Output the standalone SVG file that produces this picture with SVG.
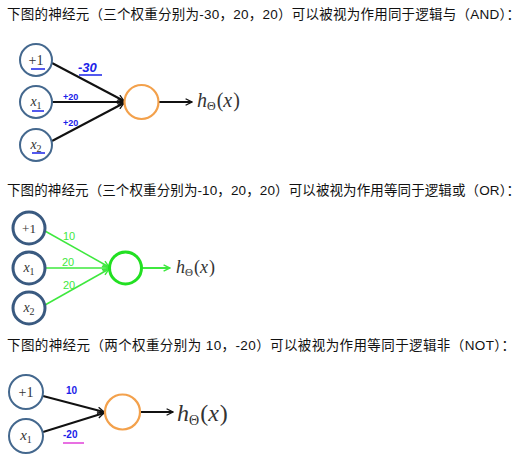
<svg xmlns="http://www.w3.org/2000/svg" width="521" height="467" viewBox="0 0 521 467">
<style>
.hd{font-family:"Liberation Sans","Noto Sans CJK SC",sans-serif;font-size:13.5px;fill:#111}
.in{fill:#fff;stroke:#44688e;stroke-width:2}
.in2{fill:#fff;stroke:#3a5a80;stroke-width:3}
.or{fill:#fff;stroke:#f3a14c;stroke-width:2.2}
.gr{fill:#fff;stroke:#22e022;stroke-width:3}
.m{font-family:"Liberation Serif","DejaVu Serif",serif;fill:#333}
.mi{font-style:italic}
.bk{stroke:#111;stroke-width:2;fill:none}
.gl{stroke:#3ee83e;stroke-width:1.5;fill:none}
.bl{font-family:"Liberation Sans",sans-serif;font-weight:bold;fill:#1a22e8}
.gt{font-family:"Liberation Sans",sans-serif;fill:#3ee83e;font-size:11px}
.ul{stroke:#1a22e8;stroke-width:1.5}
</style>
<defs>
<marker id="ab" viewBox="0 0 10 10" refX="9" refY="5" markerWidth="8" markerHeight="8" orient="auto" markerUnits="userSpaceOnUse">
<path d="M1,1 L9,5 L1,9" fill="none" stroke="#111" stroke-width="1.6"/>
</marker>
<marker id="ag" viewBox="0 0 10 10" refX="9" refY="5" markerWidth="8" markerHeight="8" orient="auto" markerUnits="userSpaceOnUse">
<path d="M1,1 L9,5 L1,9" fill="none" stroke="#3ee83e" stroke-width="1.8"/>
</marker>
</defs>

<text class="hd" x="7" y="19" textLength="513" lengthAdjust="spacing">下图的神经元（三个权重分别为-30，20，20）可以被视为作用同于逻辑与（AND）：</text>
<text class="hd" x="7" y="195" textLength="513" lengthAdjust="spacing">下图的神经元（三个权重分别为-10，20，20）可以被视为作用等同于逻辑或（OR）：</text>
<text class="hd" x="7" y="350" textLength="508" lengthAdjust="spacing">下图的神经元（两个权重分别为 10，-20）可以被视为作用等同于逻辑非（NOT）：</text>

<g id="connectors">
<path class="bk" d="M52,63 L124,101" marker-end="url(#ab)"/>
<path class="bk" d="M52,102 L124,102" marker-end="url(#ab)"/>
<path class="bk" d="M52,141 L124,103" marker-end="url(#ab)"/>
<path class="bk" d="M159,102 L192,102" marker-end="url(#ab)"/>
<path class="gl" d="M45,231 L109,267" marker-end="url(#ag)"/>
<path class="gl" d="M45,268 L109,268" marker-end="url(#ag)"/>
<path class="gl" d="M45,305 L109,269" marker-end="url(#ag)"/>
<path class="gl" d="M142,268 L170,268" marker-end="url(#ag)" style="stroke-width:2"/>
<path class="bk" d="M43,396 L104,412" marker-end="url(#ab)"/>
<path class="bk" d="M43,432 L104,413" marker-end="url(#ab)"/>
<path class="bk" d="M140,412 L173,412" marker-end="url(#ab)"/>
</g>

<g id="labels">
<text class="bl" x="78" y="72" font-size="13" font-style="italic">-30</text>
<line class="ul" x1="79" y1="75" x2="102" y2="75"/>
<text class="bl" x="63" y="100" font-size="9">+20</text>
<text class="bl" x="63" y="126" font-size="9">+20</text>
<text class="gt" x="63" y="240">10</text>
<text class="gt" x="62" y="266">20</text>
<text class="gt" x="63" y="289">20</text>
<text class="bl" x="66" y="394" font-size="10">10</text>
<text class="bl" x="63" y="438" font-size="10">-20</text>
<line x1="63" y1="443" x2="84" y2="443" stroke="#e040d8" stroke-width="1.5"/>
</g>

<g id="and-b"><circle class="in" cx="36" cy="60" r="16"/><text class="m" x="36" y="65" font-size="14" text-anchor="middle">+1</text><line class="ul" x1="31" y1="69" x2="45" y2="69"/></g>
<g id="and-x1"><circle class="in" cx="36" cy="102" r="16"/><text class="m" x="36" y="106" font-size="14" text-anchor="middle"><tspan class="mi">x</tspan><tspan font-size="10" dy="3">1</tspan></text><line class="ul" x1="32" y1="111" x2="44" y2="111"/></g>
<g id="and-x2"><circle class="in" cx="36" cy="145" r="16"/><text class="m" x="36" y="149" font-size="14" text-anchor="middle"><tspan class="mi">x</tspan><tspan font-size="10" dy="3">2</tspan></text><line class="ul" x1="32" y1="153" x2="45" y2="153"/></g>
<g id="and-out"><circle class="or" cx="141.5" cy="102" r="17"/></g>
<g id="and-h"><text class="m" x="197" y="107" font-size="20"><tspan class="mi">h</tspan><tspan font-size="12" dy="3">Θ</tspan><tspan dy="-3" dx="1">(</tspan><tspan class="mi">x</tspan><tspan dx="1">)</tspan></text></g>

<g id="or-b"><circle class="in2" cx="29" cy="228" r="16"/><text class="m" x="29" y="233" font-size="13" text-anchor="middle">+1</text></g>
<g id="or-x1"><circle class="in2" cx="29" cy="268" r="16"/><text class="m" x="29" y="272" font-size="14" text-anchor="middle"><tspan class="mi">x</tspan><tspan font-size="10" dy="3">1</tspan></text></g>
<g id="or-x2"><circle class="in2" cx="29" cy="308" r="16"/><text class="m" x="29" y="312" font-size="14" text-anchor="middle"><tspan class="mi">x</tspan><tspan font-size="10" dy="3">2</tspan></text></g>
<g id="or-out"><circle class="gr" cx="125.5" cy="268" r="16"/></g>
<g id="or-h"><text class="m" x="176" y="273" font-size="18"><tspan class="mi">h</tspan><tspan font-size="11" dy="3">Θ</tspan><tspan dy="-3" dx="1">(</tspan><tspan class="mi">x</tspan><tspan dx="1">)</tspan></text></g>

<g id="not-b"><circle class="in" cx="26" cy="392" r="17"/><text class="m" x="26" y="397" font-size="14" text-anchor="middle">+1</text></g>
<g id="not-x1"><circle class="in" cx="26" cy="436" r="17"/><text class="m" x="26" y="440" font-size="15" text-anchor="middle"><tspan class="mi">x</tspan><tspan font-size="10" dy="3">1</tspan></text></g>
<g id="not-out"><circle class="or" cx="122.5" cy="412" r="17.5"/></g>
<g id="not-h"><text class="m" x="177" y="421" font-size="24"><tspan class="mi">h</tspan><tspan font-size="14" dy="4">Θ</tspan><tspan dy="-4" dx="1">(</tspan><tspan class="mi">x</tspan><tspan dx="1">)</tspan></text></g>
</svg>
